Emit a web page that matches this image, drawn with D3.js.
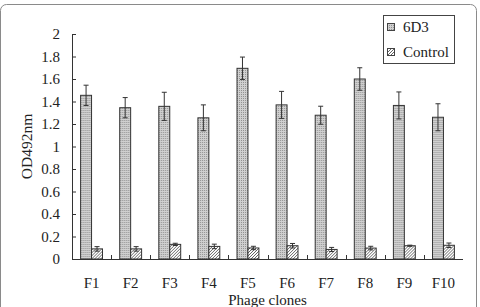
<!DOCTYPE html>
<html>
<head>
<meta charset="utf-8">
<script src="https://cdn.jsdelivr.net/npm/d3@7"></script>
<style>
  body { margin: 0; background: #fff; }
  svg text { font-family: "Liberation Serif", "Times New Roman", serif !important; fill: #222; }
</style>
</head>
<body>
<div id="chart"></div>
<script>
const width = 480;
const height = 307;

// data
const clones = ["F1", "F2", "F3", "F4", "F5", "F6", "F7", "F8", "F9", "F10"];
const series = ["6D3", "Control"];
const mean6D3 = [1.455, 1.345, 1.357, 1.255, 1.695, 1.37, 1.278, 1.6, 1.365, 1.26];
const err6D3 = [0.09, 0.09, 0.125, 0.115, 0.1, 0.12, 0.08, 0.1, 0.12, 0.12];
const meanControl = [0.09, 0.09, 0.13, 0.112, 0.098, 0.118, 0.085, 0.097, 0.118, 0.122];
const errControl = [0.02, 0.02, 0.01, 0.02, 0.015, 0.02, 0.018, 0.016, 0.005, 0.02];
const yTicks = [0, 0.2, 0.4, 0.6, 0.8, 1, 1.2, 1.4, 1.6, 1.8, 2];

const margin = { top: 34, right: 17, bottom: 48, left: 72 };
const serif = "Liberation Serif, Times New Roman, serif";

const svg = d3.select("#chart").append("svg")
   .attr("width", width)
   .attr("height", height)
   .attr("font-family", serif);

// patterns for the two fills
const defs = svg.append("defs");
const dots = defs.append("pattern")
   .attr("id", "dots")
   .attr("width", 2).attr("height", 2)
   .attr("patternUnits", "userSpaceOnUse");
dots.append("rect").attr("width", 2).attr("height", 2).attr("fill", "#d0d0d0");
dots.append("rect").attr("width", 1).attr("height", 1).attr("fill", "#939393");

const hatch = defs.append("pattern")
   .attr("id", "hatch")
   .attr("width", 3).attr("height", 3)
   .attr("patternUnits", "userSpaceOnUse");
hatch.append("rect").attr("width", 3).attr("height", 3).attr("fill", "#fff");
hatch.append("path")
   .attr("d", "M-1,1 L1,-1 M0,3 L3,0 M2,4 L4,2")
   .attr("stroke", "#555").attr("stroke-width", 0.9);

const fills = { "6D3": "url(#dots)", "Control": "url(#hatch)" };

// outer frame
svg.append("rect")
   .attr("x", 0.5).attr("y", 4.5)
   .attr("width", 476).attr("height", 320)
   .attr("rx", 6)
   .attr("fill", "none")
   .attr("stroke", "#8a8a8a");

const x0 = d3.scaleBand()
   .domain(clones)
   .range([margin.left, width - margin.right])
   .paddingInner(0.44)
   .paddingOuter(0.22);

const x1 = d3.scaleBand()
   .domain(series)
   .range([0, x0.bandwidth()]);

const y = d3.scaleLinear()
   .domain([0, 2])
   .range([height - margin.bottom, margin.top]);

const rows = clones.map((c, i) => ({
   clone: c,
   values: [
      { key: "6D3", mean: mean6D3[i], err: err6D3[i] },
      { key: "Control", mean: meanControl[i], err: errControl[i] }
   ]
}));

// y axis, ticks pointing inward
const yAxis = svg.append("g")
   .attr("transform", `translate(${margin.left},0)`)
   .call(d3.axisRight(y).tickValues(yTicks).tickSize(4).tickFormat(d => d));
yAxis.attr("font-family", serif).attr("font-size", 15);
yAxis.select(".domain").attr("d", `M0.5,${y(2)}V${y(0)}`).attr("stroke", "#333");
yAxis.selectAll(".tick line").attr("stroke", "#333");
yAxis.selectAll(".tick text")
   .attr("x", -12)
   .attr("text-anchor", "end")
   .attr("dy", "0.33em")
   .style("font-size", "15px");

// groups of bars
const groups = svg.selectAll("g.group")
   .data(rows)
   .enter()
   .append("g")
   .attr("class", "group")
   .attr("transform", d => `translate(${x0(d.clone)},0)`);

groups.selectAll("rect")
   .data(d => d.values)
   .enter()
   .append("rect")
   .attr("x", d => x1(d.key))
   .attr("y", d => y(d.mean))
   .attr("width", x1.bandwidth())
   .attr("height", d => y(0) - y(d.mean))
   .attr("fill", d => fills[d.key])
   .attr("stroke", "#333")
   .attr("stroke-width", 1);

// error bars
const cap = 2.5;
const eb = groups.selectAll("g.err")
   .data(d => d.values)
   .enter()
   .append("g")
   .attr("class", "err")
   .attr("stroke", "#333")
   .attr("stroke-width", 1);
eb.append("line")
   .attr("x1", d => x1(d.key) + x1.bandwidth() / 2)
   .attr("x2", d => x1(d.key) + x1.bandwidth() / 2)
   .attr("y1", d => y(d.mean + d.err))
   .attr("y2", d => y(d.mean - d.err));
eb.append("line")
   .attr("x1", d => x1(d.key) + x1.bandwidth() / 2 - cap)
   .attr("x2", d => x1(d.key) + x1.bandwidth() / 2 + cap)
   .attr("y1", d => y(d.mean + d.err))
   .attr("y2", d => y(d.mean + d.err));
eb.append("line")
   .attr("x1", d => x1(d.key) + x1.bandwidth() / 2 - cap)
   .attr("x2", d => x1(d.key) + x1.bandwidth() / 2 + cap)
   .attr("y1", d => y(d.mean - d.err))
   .attr("y2", d => y(d.mean - d.err));

// x axis with ticks between categories, pointing up
const step = x0.step();
svg.append("line")
   .attr("x1", margin.left).attr("x2", width - margin.right)
   .attr("y1", y(0) + 0.5).attr("y2", y(0) + 0.5)
   .attr("stroke", "#333");
svg.selectAll("line.xtick")
   .data(clones.slice(1))
   .enter()
   .append("line")
   .attr("class", "xtick")
   .attr("x1", d => Math.round(x0(d) - x0.paddingInner() * step / 2) + 0.5)
   .attr("x2", d => Math.round(x0(d) - x0.paddingInner() * step / 2) + 0.5)
   .attr("y1", y(0))
   .attr("y2", y(0) - 4)
   .attr("stroke", "#333");

svg.selectAll("text.xlabel")
   .data(clones)
   .enter()
   .append("text")
   .attr("class", "xlabel")
   .attr("x", d => x0(d) + x0.bandwidth() / 2)
   .attr("y", 288)
   .attr("text-anchor", "middle")
   .style("font-size", "15px")
   .text(d => d);

svg.append("text")
   .attr("x", (margin.left + width - margin.right) / 2)
   .attr("y", 305)
   .attr("text-anchor", "middle")
   .style("font-size", "15px")
   .text("Phage clones");

svg.append("text")
   .attr("transform", `translate(32,${(y(0) + y(2)) / 2}) rotate(-90)`)
   .attr("text-anchor", "middle")
   .style("font-size", "15.5px")
   .text("OD492nm");

// legend
const legend = svg.append("g").attr("transform", "translate(383,15)");
legend.append("rect")
   .attr("x", 0.5).attr("y", 0.5)
   .attr("width", 71).attr("height", 48)
   .attr("fill", "#fff")
   .attr("stroke", "#444");
series.forEach((s, i) => {
   legend.append("rect")
      .attr("x", 4.5).attr("y", 8.5 + i * 25)
      .attr("width", 7).attr("height", 7)
      .attr("fill", fills[s])
      .attr("stroke", "#444");
   legend.append("text")
      .attr("x", 20).attr("y", 17 + i * 25)
      .style("font-size", "15px")
      .text(s);
});
</script>
</body>
</html>
